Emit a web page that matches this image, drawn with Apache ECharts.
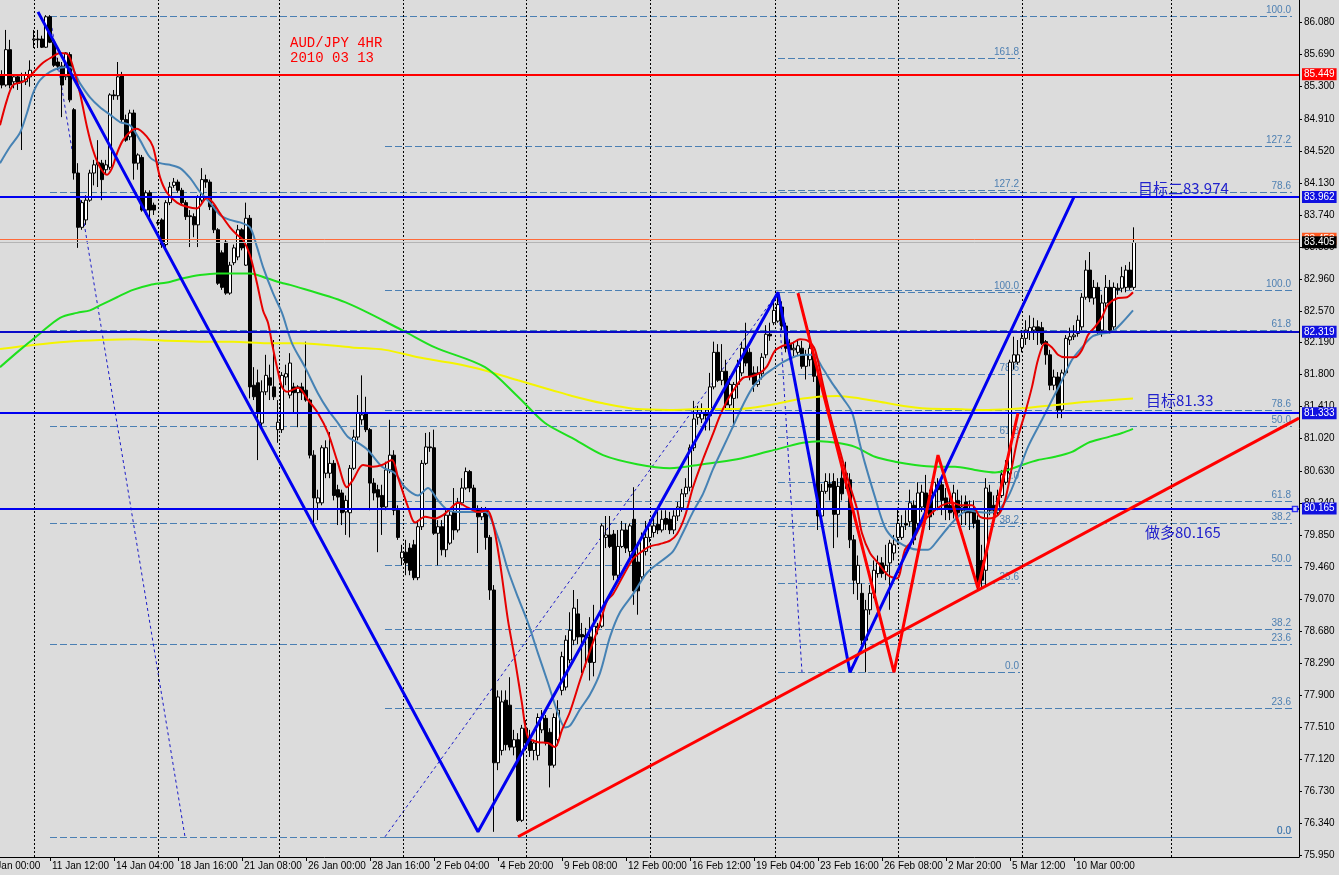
<!DOCTYPE html>
<html><head><meta charset="utf-8">
<script src="https://cdn.jsdelivr.net/npm/echarts@6/dist/echarts.min.js"></script>
<style>html,body{margin:0;padding:0;background:#dcdcdc;}#c{width:1339px;height:875px;}</style>
</head><body><div id="c"></div>
<script>
// ---------- DATA ----------
const firstBar = 4; // bar index of the first candle
// [open, close, low, high]
const candles = [
[85.44,85.32,85.28,85.50],[85.32,85.75,85.30,85.99],[85.75,85.32,85.28,85.87],[85.36,85.42,85.28,85.44],[85.42,85.34,85.26,85.45],
[85.37,85.36,84.53,85.47],[85.36,85.44,85.32,85.48],[85.42,85.50,85.30,85.62],[85.87,85.88,85.77,85.99],[85.88,85.87,85.77,85.99],
[85.88,85.78,85.77,85.92],[85.78,86.15,85.77,86.17],[86.15,85.84,85.83,86.17],[85.84,85.56,85.54,85.87],[85.60,85.55,85.50,85.65],
[85.55,85.32,84.93,85.60],[85.42,85.71,85.38,85.72],[85.69,85.14,85.11,85.72],[85.02,84.25,84.17,85.04],[84.25,83.59,83.34,84.37],
[83.59,83.89,83.56,83.92],[83.68,83.92,83.62,83.98],[83.92,84.25,83.90,84.29],[84.25,84.35,84.10,84.41],[84.35,84.38,84.08,84.65],
[84.37,84.17,83.92,84.41],[84.29,84.35,84.23,84.41],[84.32,85.20,84.29,85.22],[85.20,85.19,85.14,85.26],[85.19,85.42,85.14,85.60],
[85.44,84.90,84.87,85.48],[84.90,84.65,84.63,84.96],[84.69,84.98,84.65,85.02],[84.98,84.37,84.17,85.02],[84.37,84.47,84.29,84.49],
[84.44,83.80,83.78,84.47],[83.80,84.01,83.74,84.04],[84.01,83.80,83.70,84.04],[83.86,83.80,83.74,83.89],[83.65,83.64,83.61,83.68],
[83.68,83.38,83.34,83.70],[83.38,83.89,83.35,83.92],[83.89,84.08,83.86,84.14],[84.10,84.14,84.07,84.19],[84.14,84.04,84.01,84.17],
[84.04,83.89,83.86,84.07],[83.89,83.72,83.68,83.92],[83.73,83.72,83.35,83.80],[83.72,83.62,83.47,83.76],[83.62,83.96,83.35,83.98],
[83.92,84.17,83.89,84.31],[84.17,84.14,84.07,84.23],[84.14,83.84,83.80,84.17],[83.84,83.56,83.52,83.86],[83.56,82.91,82.89,83.58],
[83.28,82.86,82.83,83.31],[83.41,82.79,82.77,83.44],[82.79,83.13,82.77,83.17],[83.16,83.34,83.13,83.38],[83.23,83.56,83.19,83.62],
[83.56,83.34,83.31,83.58],[83.13,83.70,83.12,83.89],[83.70,81.65,81.51,83.74],[81.67,81.53,81.49,81.89],[81.70,81.33,80.76,81.86],
[81.21,81.59,81.16,81.73],[81.59,81.79,81.55,82.04],[81.76,81.67,81.49,81.92],[81.65,81.53,81.49,82.22],[81.13,81.22,80.97,81.49],
[81.13,81.79,81.09,81.83],[81.77,81.81,81.67,81.92],[81.55,81.94,81.51,82.06],[81.65,81.58,81.33,81.70],[81.58,81.65,81.16,81.67],
[81.65,81.58,81.49,81.70],[81.61,81.49,81.47,82.20],[81.49,80.82,80.78,81.51],[80.82,80.30,79.99,80.88],[80.24,80.30,80.03,80.40],
[80.24,80.91,80.21,80.94],[80.60,80.91,80.54,81.00],[80.60,80.72,80.54,81.10],[80.72,80.33,80.27,80.76],[80.40,80.31,79.97,80.46],
[80.36,80.12,79.97,80.40],[80.13,80.27,79.85,80.33],[80.12,80.66,79.82,80.70],[80.66,81.04,80.64,81.13],[81.04,81.33,81.00,81.55],
[81.25,81.31,81.19,81.79],[81.33,81.13,81.10,81.53],[81.13,80.48,80.15,81.15],[80.48,80.36,80.27,80.54],[80.40,80.31,79.64,80.46],
[80.33,80.19,79.85,80.46],[80.19,80.64,80.15,80.74],[80.64,80.82,80.60,81.25],[80.82,80.15,80.09,80.88],[80.15,79.82,79.79,80.21],
[79.57,79.64,79.48,79.73],[79.64,79.51,79.36,79.79],[79.69,79.42,79.36,79.75],[79.73,79.33,79.30,79.79],[79.33,79.95,79.30,80.03],
[79.95,80.72,79.91,80.76],[80.72,80.92,80.70,81.09],[80.92,80.91,80.86,81.10],[80.91,79.87,79.85,81.13],[79.87,79.95,79.48,80.03],
[79.95,79.67,79.60,80.03],[79.67,80.09,79.58,80.15],[79.75,80.09,79.73,80.15],[80.13,79.91,79.79,80.42],[79.91,80.24,79.88,80.30],
[80.24,80.42,80.21,80.54],[80.42,80.62,80.40,80.67],[80.62,80.42,80.37,80.64],[80.42,80.15,80.13,80.46],[80.15,80.07,79.63,80.21],
[80.07,80.15,80.03,80.19],[80.15,79.82,79.67,80.19],[79.82,79.18,79.06,79.85],[79.18,77.08,76.24,79.24],[77.08,77.88,76.99,77.96],
[77.23,77.82,77.17,77.96],[77.84,77.30,77.23,77.96],[77.78,77.27,77.23,78.12],[77.27,77.36,77.17,77.48],[77.36,76.38,76.36,77.44],
[76.38,77.50,76.36,77.54],[77.50,77.32,77.23,77.60],[77.36,77.23,77.15,77.48],[77.23,77.32,77.11,77.36],[77.17,77.63,77.11,77.68],
[77.48,77.63,77.44,77.72],[77.62,77.32,77.29,77.66],[77.45,77.05,76.78,77.50],[77.05,77.63,77.02,77.68],[77.36,77.72,77.29,77.84],
[77.96,78.37,77.90,78.43],[78.00,78.57,77.96,78.63],[78.33,78.69,78.29,78.91],[78.57,78.96,78.51,79.18],[78.89,78.61,78.52,79.07],
[78.64,78.61,78.17,78.78],[78.63,78.60,78.24,78.72],[78.61,78.30,78.08,78.85],[78.30,78.74,78.13,79.00],[78.74,78.72,78.64,78.78],
[78.74,79.96,78.72,79.99],[79.82,79.85,79.69,80.08],[79.85,79.71,79.69,80.08],[79.86,79.36,79.30,79.91],[79.36,79.71,79.30,79.91],
[79.71,79.91,79.69,80.02],[79.91,79.69,79.63,79.99],[79.65,79.96,79.56,79.99],[80.04,79.17,79.00,80.43],[79.52,79.17,78.88,79.76],
[79.34,79.82,79.30,79.88],[79.65,79.82,79.60,80.02],[79.82,79.96,79.76,80.04],[79.88,79.96,79.82,80.08],[79.98,79.91,79.86,80.15],
[79.91,80.04,79.88,80.15],[80.05,79.98,79.91,80.15],[80.04,79.91,79.86,80.13],[79.91,80.08,79.86,80.15],[80.08,80.19,80.02,80.25],
[80.18,80.35,80.13,80.41],[80.35,80.43,80.31,80.54],[80.43,80.91,80.38,80.95],[80.91,81.26,80.87,81.48],[81.28,81.32,81.19,81.42],
[81.26,81.33,81.21,81.45],[81.32,81.30,81.12,81.38],[81.30,81.65,81.12,81.82],[81.65,82.07,81.62,82.20],[82.07,81.73,81.71,82.17],
[81.73,81.84,81.67,82.17],[81.84,81.43,81.38,81.98],[81.43,81.68,81.38,81.78],[81.51,81.68,81.16,81.71],[81.68,81.90,81.51,81.98],
[81.82,82.12,81.78,82.20],[82.12,81.94,81.90,82.43],[82.07,81.78,81.73,82.12],[81.82,81.68,81.59,81.90],[81.68,81.82,81.65,81.90],
[81.81,82.01,81.74,82.06],[82.04,82.29,82.00,82.40],[82.29,82.27,82.21,82.43],[82.43,82.58,82.40,82.69],[82.45,82.65,82.43,82.78],
[82.62,82.39,82.34,82.69],[82.39,82.12,82.07,82.43],[82.17,82.10,82.04,82.23],[82.10,82.12,82.01,82.20],[82.07,82.15,82.04,82.23],
[82.12,81.90,81.87,82.21],[81.90,82.04,81.74,82.10],[81.98,82.12,81.90,82.34],[82.04,81.78,81.71,82.10],[81.78,80.08,79.91,81.84],
[80.08,80.38,80.02,80.47],[80.38,80.50,80.35,80.60],[80.47,80.43,80.27,80.60],[80.50,80.10,79.69,80.60],[80.10,80.44,79.82,80.54],
[80.54,80.35,80.27,80.67],[80.60,80.52,80.41,80.74],[80.52,79.79,79.69,80.60],[79.79,79.30,79.13,79.85],[79.26,79.48,79.06,79.60],
[79.14,78.57,78.51,79.26],[78.57,78.94,78.18,79.06],[78.94,79.14,78.88,79.24],[79.14,79.42,79.08,79.54],[79.38,79.51,79.33,79.60],
[79.51,79.38,79.33,79.58],[79.40,79.48,79.30,79.73],[79.51,79.75,78.94,79.79],[79.63,79.73,79.54,79.85],[79.82,79.99,79.73,80.18],
[79.82,79.95,79.79,80.09],[79.99,79.97,79.91,80.15],[80.01,80.24,79.95,80.40],[80.21,79.79,79.73,80.27],[79.99,80.36,79.95,80.49],
[80.19,80.37,80.13,80.46],[80.36,80.12,80.07,80.58],[80.33,80.07,79.91,80.40],[80.15,80.49,80.09,80.58],[80.46,80.40,80.15,80.54],
[80.46,80.27,80.09,80.52],[80.30,80.18,80.03,80.42],[80.21,80.12,80.03,80.40],[80.13,80.36,80.05,80.46],[80.27,80.12,80.03,80.40],
[80.15,80.19,79.97,80.33],[80.25,80.12,79.97,80.33],[80.15,80.12,79.91,80.27],[80.15,79.99,79.93,80.27],[80.03,79.30,79.18,80.09],
[79.54,79.30,79.20,79.73],[79.42,80.42,79.24,80.54],[80.37,80.15,80.09,80.46],[80.21,80.15,80.09,80.33],[80.12,80.33,80.09,80.40],
[80.33,80.58,80.30,80.64],[80.49,80.66,80.46,80.76],[80.60,81.95,80.58,81.98],[81.95,82.04,81.86,82.26],[81.95,82.04,81.92,82.22],
[82.13,82.24,82.07,82.34],[82.24,82.34,82.16,82.46],[82.32,82.37,82.22,82.52],[82.34,82.38,82.22,82.49],[82.38,82.32,82.16,82.46],
[82.37,82.18,82.16,82.44],[82.20,82.04,81.92,82.22],[82.04,81.67,81.61,82.10],[81.67,81.77,81.61,81.86],[81.77,81.37,81.27,81.83],
[81.37,81.82,81.27,81.86],[81.82,82.24,81.79,82.28],[82.22,82.26,82.16,82.37],[82.26,82.28,82.22,82.40],[82.30,82.46,82.26,82.52],
[82.38,82.74,82.34,82.79],[82.74,83.07,82.71,83.19],[83.07,82.73,82.68,83.29],[82.73,82.86,82.65,82.95],[82.86,82.32,82.28,82.92],
[82.34,82.67,82.26,82.77],[82.67,82.86,82.62,83.01],[82.86,82.34,82.30,82.95],[82.38,82.86,82.34,82.92],[82.85,82.83,82.77,82.91],
[82.85,82.99,82.80,83.11],[82.86,83.07,82.80,83.13],[83.07,82.86,82.83,83.17],[82.86,83.405,82.83,83.59]
];

const maRed = [[3.5,84.83],[5.25,85.14],[6.75,85.32],[9.25,85.36],[11.75,85.47],[14.25,85.59],[16.5,85.66],[18.5,85.71],[20.5,85.69],[21.75,85.54],[23.5,85.22],[25.25,84.81],[26.75,84.53],[28.5,84.32],[30.25,84.23],[31.5,84.31],[32.75,84.49],[34.25,84.65],[36.5,84.77],[37.75,84.79],[40.25,84.69],[41.75,84.57],[43.5,84.20],[45.25,84.01],[47.75,83.89],[50.25,83.84],[52.75,83.82],[55.25,83.95],[56.75,83.89],[58.5,83.76],[61,83.59],[62.75,83.50],[64.25,83.44],[66,83.25],[67.75,82.91],[69.25,82.58],[70.5,82.43],[71.5,82.18],[72.75,81.89],[74,81.65],[75.25,81.59],[78,81.64],[80.5,81.49],[83,81.33],[85.5,81.09],[88,80.72],[90.25,80.43],[91.75,80.52],[94.25,80.70],[96.75,80.68],[99,80.70],[101.5,80.76],[103,80.55],[105.5,80.19],[107.25,80.00],[109.75,80.07],[112.25,80.05],[114.25,80.09],[116.5,80.19],[118,80.24],[120.5,80.18],[123,80.13],[125.25,80.15],[126.75,79.99],[128.5,79.51],[130.5,78.81],[132.25,78.33],[134,77.80],[135.5,77.39],[138,77.33],[140.5,77.32],[142.25,77.27],[144,77.48],[146,77.70],[148.5,78.08],[151,78.44],[153.5,78.78],[155.25,79.05],[156.75,79.13],[159.25,79.35],[161.75,79.56],[164,79.65],[166,79.71],[168.5,79.74],[171,79.78],[172.75,79.86],[174.75,80.08],[176.75,80.43],[179.25,80.77],[181.75,81.08],[183.5,81.30],[185.25,81.48],[186.75,81.60],[189.25,81.76],[191.5,81.78],[193.5,81.82],[195.25,81.90],[197.25,82.09],[199.25,82.15],[201.5,82.18],[203.5,82.23],[205.5,82.21],[207.25,82.10],[209.25,81.68],[211.75,81.17],[213.5,80.87],[215.5,80.52],[217.75,80.17],[219,79.87],[221,79.63],[223,79.51],[225.5,79.36],[227.75,79.32],[229.75,79.67],[231.75,79.79],[234,79.99],[236.5,80.12],[239,80.21],[241.5,80.24],[244,80.21],[246.5,80.21],[248.5,80.07],[250.5,80.05],[253,80.09],[254.75,80.27],[256.5,80.68],[258,81.04],[259.75,81.33],[261.5,81.65],[263,81.98],[264.75,82.18],[266.5,82.13],[268,82.04],[269.75,82.01],[272.25,82.01],[274,82.10],[275.5,82.28],[277.25,82.38],[279,82.50],[280.5,82.65],[283,82.73],[285.25,82.74],[286.75,82.80]];

const maBlue = [[3.5,84.37],[6,84.57],[8.5,84.74],[10.25,84.98],[11.75,85.22],[13.5,85.38],[16,85.48],[18.5,85.53],[21,85.54],[23.5,85.34],[26,85.17],[28.5,85.05],[31,84.96],[33.5,84.87],[36,84.83],[38.5,84.65],[41,84.44],[43.5,84.37],[46,84.35],[48.5,84.31],[51,84.19],[53.5,84.02],[56,83.89],[58.5,83.74],[61,83.68],[63.5,83.65],[66,83.59],[67.75,83.35],[69.25,83.11],[71.75,82.79],[74,82.55],[76.5,82.18],[79.75,81.89],[83,81.57],[85.5,81.37],[88,81.21],[90.5,81.04],[93,80.97],[95.5,80.88],[99,80.68],[102.25,80.60],[104.75,80.43],[108,80.33],[110.5,80.42],[113,80.27],[115.5,80.15],[118,80.13],[121.5,80.13],[124.75,80.13],[128,79.82],[130.5,79.42],[133,79.09],[135.5,78.78],[138,78.41],[140.5,78.05],[143,77.68],[144.75,77.51],[146,77.53],[148.5,77.73],[151,77.91],[153.5,78.17],[156,78.61],[158.5,78.91],[161.75,79.13],[165.25,79.39],[168.5,79.52],[171.75,79.65],[174.25,79.88],[176.75,80.13],[179.25,80.35],[181.75,80.65],[184.25,80.91],[186.75,81.17],[189.25,81.43],[191.75,81.65],[194.25,81.78],[196.75,81.87],[199.25,81.95],[201.75,82.01],[204.25,82.04],[206.75,82.04],[209.25,81.87],[211.75,81.68],[214.25,81.51],[216.5,81.34],[218.5,80.95],[219.75,80.72],[222.25,80.31],[224.75,79.94],[227.25,79.79],[230.5,79.70],[233,79.67],[235.5,79.67],[238,79.79],[240.5,79.94],[243,80.07],[245.5,80.15],[248,80.13],[250.5,80.12],[253,80.15],[255.5,80.31],[258,80.60],[260.5,80.92],[264,81.25],[266.5,81.49],[269,81.73],[271.5,81.98],[274,82.13],[276.5,82.26],[279,82.30],[281.5,82.32],[284,82.43],[286.75,82.58]];

const maGreen = [[3.5,81.89],[8.5,82.10],[13.5,82.30],[18.5,82.49],[22.75,82.55],[26,82.58],[28.5,82.64],[32.75,82.74],[36.75,82.83],[41,82.89],[45.25,82.92],[49.25,82.97],[53.5,83.01],[57.75,83.03],[61.75,83.03],[66,83.03],[70.25,82.97],[74.25,82.91],[76,82.89],[89.75,82.68],[104,82.34],[112.25,82.13],[124.75,81.89],[133,81.53],[139.75,81.21],[146.5,81.03],[154.25,80.82],[162.75,80.71],[171,80.66],[179.25,80.71],[187.75,80.77],[196,80.87],[204.25,80.97],[208.5,80.99],[212.75,80.97],[217.25,80.92],[222.25,80.80],[227.25,80.74],[232.25,80.70],[237.25,80.68],[242.25,80.68],[247.25,80.64],[252.25,80.61],[255.5,80.64],[259,80.70],[263,80.76],[267.25,80.80],[271.5,80.86],[275.5,80.97],[279.75,81.03],[284,81.09],[286.75,81.14]];

const maYellow = [[3.5,82.11],[11.75,82.16],[20.25,82.20],[28.5,82.22],[36.75,82.23],[45.25,82.21],[53.5,82.20],[61.75,82.20],[70.25,82.18],[78.5,82.18],[91.5,82.13],[99.75,82.10],[108,82.01],[116.5,81.94],[124.75,81.85],[133,81.73],[141.5,81.61],[146.5,81.54],[154.25,81.45],[162.75,81.38],[171,81.37],[179.25,81.38],[187.75,81.38],[196,81.43],[204.25,81.51],[212.75,81.54],[218.5,81.51],[225.5,81.45],[234,81.39],[242.25,81.38],[250.5,81.37],[259,81.39],[267.25,81.43],[275.5,81.47],[286.75,81.51]];

const yTickValues = [75.95,76.34,76.73,77.12,77.51,77.90,78.29,78.68,79.07,79.46,79.85,80.24,80.63,81.02,81.41,81.80,82.19,82.57,82.96,83.35,83.74,84.13,84.52,84.91,85.30,85.69,86.08];
const xTickBars = [16,32,48,64,80,96,112,128,144,160,176,192,208,224,240,256,272];
const xTickLabels = ['11 Jan 12:00','14 Jan 04:00','18 Jan 16:00','21 Jan 08:00','26 Jan 00:00','28 Jan 16:00','2 Feb 04:00','4 Feb 20:00','9 Feb 08:00','12 Feb 00:00','16 Feb 12:00','19 Feb 04:00','23 Feb 16:00','26 Feb 08:00','2 Mar 20:00','5 Mar 12:00','10 Mar 00:00'];
const firstLabel = '7 Jan 00:00';
const gridBars = [12,43,73.25,104.25,135,166,197.25,228,259,296.25];

const hLevels = [85.449, 83.962, 83.453, 83.405, 82.319, 81.333, 80.165];
const anchorPoint = [[327.25, 80.165]]; // small square handle on the 80.165 line

const fibSets = [
  {from:16, to:326.5, levels:[['100.0',86.16],['78.6',84.02],['61.8',82.34],['50.0',81.17],['38.2',79.99],['23.6',78.52],['0.0',76.18]]},
  {from:99.75, to:326.5, levels:[['127.2',84.57],['100.0',82.83],['78.6',81.37],['61.8',80.26],['50.0',79.48],['38.2',78.70],['23.6',77.74],['0.0',76.18]]},
  {from:198, to:258.5, levels:[['161.8',85.65],['127.2',84.04],['100.0',82.80],['78.6',81.80],['61.8',81.04],['50.0',80.49],['38.2',79.95],['23.6',79.26],['0.0',78.18]]}
];
const fibDiagonals = [[[16,86.16],[49.75,76.18]], [[99.75,76.18],[198,82.80]], [[198,82.80],[204,78.18]]];

const blueZigzag = [[13,86.21],[123,76.24],[198,82.80],[216,78.18],[272,83.96]];
const redZigzag = [[203,82.79],[227,78.18],[238,80.82],[248,79.20],[258,81.33]];
const redTrend = [[133,76.18],[328.25,81.27]];

const notes = [
  {text:'AUD/JPY 4HR', bar:76, price:85.83},
  {text:'2010 03 13', bar:76, price:85.64}
];
const targets = [
  {text:'目标二83.974', bar:288, price:84.06},
  {text:'目标81.33', bar:290, price:81.49},
  {text:'做多80.165', bar:289.75, price:79.88}
];

// ---------- CHART ----------
const FONT = '"Liberation Sans", Arial, sans-serif';
const chart = echarts.init(document.getElementById('c'), null, {width:1339, height:875});

const candleRows = candles.map((c, k) => [firstBar + k, c[0], c[1], c[2], c[3]]);

const hStyle = [
  {line:'#ff0000', w:2, box:'#ff0000'},
  {line:'#0000f0', w:2, box:'#1010e0'},
  {line:'#ff6a3a', w:1, box:'#ff5a22'},
  {line:'#b4b4b4', w:1, box:'#000000'},
  {line:'#0a0ac8', w:2, box:'#1010e0'},
  {line:'#0000f0', w:2, box:'#1010e0'},
  {line:'#0000f0', w:2, box:'#1010e0'}
];
const hItems = hLevels.map((v, k) => {
  const s = hStyle[k];
  return {
    yAxis: v,
    lineStyle: {color: s.line, width: s.w, type: 'solid'},
    label: {show: true, position: 'end', formatter: v.toFixed(3), color: '#fff',
      backgroundColor: s.box, padding: [1, 2, 0, 2], fontSize: 10, fontFamily: FONT, distance: 3, lineHeight: 11}
  };
});

const fibItems = [];
fibSets.forEach(fs => {
  fs.levels.forEach(([txt, p]) => {
    fibItems.push([
      {coord: [fs.from, p], lineStyle: {color: '#4a7fb3', width: 1, type: [7, 3]},
       label: {show: true, position: 'insideEndTop', formatter: txt, color: '#4f80b2', fontSize: 10, fontFamily: FONT, distance: 1}},
      {coord: [fs.to, p]}
    ]);
  });
});
fibDiagonals.forEach(d => {
  fibItems.push([
    {coord: d[0], lineStyle: {color: '#1a1ac8', width: 1, type: [3, 3]}, label: {show: false}},
    {coord: d[1]}
  ]);
});
gridBars.forEach(b => {
  fibItems.push({xAxis: b, lineStyle: {color: '#000', width: 1, type: [2, 2]}, label: {show: false}});
});

const option = {
  animation: false,
  backgroundColor: '#dcdcdc',
  grid: {left: 0, right: 40, top: 0, bottom: 18, containLabel: false},
  xAxis: {
    type: 'value', min: 3.5, max: 328.25,
    axisLine: {show: true, onZero: false, lineStyle: {color: '#000', width: 1}},
    axisTick: {show: true, length: 4, lineStyle: {color: '#000'}, customValues: xTickBars},
    axisLabel: {show: true, customValues: xTickBars, color: '#000', fontSize: 10, fontFamily: FONT,
      align: 'left', padding: [0, 0, 0, 2], margin: 4,
      formatter: v => { const k = xTickBars.indexOf(Math.round(v)); return k >= 0 ? xTickLabels[k] : ''; }},
    splitLine: {show: false}
  },
  yAxis: {
    type: 'value', position: 'right', min: 75.934, max: 86.354,
    axisLine: {show: true, lineStyle: {color: '#000', width: 1}},
    axisTick: {show: true, length: 3, lineStyle: {color: '#000'}, customValues: yTickValues},
    axisLabel: {show: true, customValues: yTickValues, color: '#000', fontSize: 10, fontFamily: FONT, margin: 5,
      formatter: v => v.toFixed(3)},
    splitLine: {show: false}
  },
  series: [
    {
      type: 'candlestick', name: 'AUDJPY', data: candleRows, encode: {x: 0, y: [1, 2, 3, 4]},
      barWidth: 3, z: 3, silent: true,
      itemStyle: {color: '#ffffff', color0: '#000000', borderColor: '#000000', borderColor0: '#000000', borderWidth: 1}
    },
    {
      type: 'line', name: 'MA200', data: maYellow, showSymbol: false, smooth: 0.3, z: 4, silent: true,
      lineStyle: {color: '#f4f400', width: 2},
      markLine: {silent: true, symbol: ['none', 'none'], z: 5, animation: false, label: {show: false}, data: hItems}
    },
    {
      type: 'line', name: 'MA120', data: maGreen, showSymbol: false, smooth: 0.3, z: 4, silent: true,
      lineStyle: {color: '#1ee01e', width: 2},
      markLine: {silent: true, symbol: ['none', 'none'], z: 1, animation: false, label: {show: false}, data: fibItems}
    },
    {
      type: 'line', name: 'MA20', data: maBlue, showSymbol: false, smooth: 0.3, z: 4, silent: true,
      lineStyle: {color: '#4682b4', width: 2}
    },
    {
      type: 'line', name: 'MA8', data: maRed, showSymbol: false, smooth: 0.3, z: 4, silent: true,
      lineStyle: {color: '#e60000', width: 2}
    },
    {
      type: 'line', name: 'ZigZagBlue', data: blueZigzag, showSymbol: false, z: 6, silent: true,
      lineStyle: {color: '#0000f0', width: 3}
    },
    {
      type: 'line', name: 'ZigZagRed', data: redZigzag, showSymbol: false, z: 6, silent: true,
      lineStyle: {color: '#ff0000', width: 3}
    },
    {
      type: 'line', name: 'TrendRed', data: redTrend, showSymbol: false, z: 6, silent: true,
      lineStyle: {color: '#ff0000', width: 3}
    },
    {
      type: 'scatter', name: 'Handle', data: anchorPoint, symbol: 'rect', symbolSize: 5, z: 7, silent: true,
      itemStyle: {color: '#ffffff', borderColor: '#0000f0', borderWidth: 1.5}
    }
  ]
};
chart.setOption(option);

// text annotations placed through the axes' scales
const gfx = [];
notes.forEach(n => {
  const pt = chart.convertToPixel({gridIndex: 0}, [n.bar, n.price]);
  gfx.push({type: 'text', x: pt[0], y: pt[1], z: 20, silent: true,
    style: {text: n.text, fill: '#ff0000', font: '14px "Liberation Mono", "Courier New", monospace', verticalAlign: 'middle', align: 'left'}});
});
targets.forEach(t => {
  const pt = chart.convertToPixel({gridIndex: 0}, [t.bar, t.price]);
  gfx.push({type: 'text', x: pt[0], y: pt[1], z: 20, silent: true,
    style: {text: t.text, fill: '#2222cc', font: '15px "Noto Sans CJK SC", sans-serif', verticalAlign: 'middle', align: 'left'}});
});
const p0 = chart.convertToPixel({gridIndex: 0}, [0, 75.934]);
gfx.push({type: 'text', x: p0[0] + 2, y: p0[1] + 9, z: 20, silent: true,
  style: {text: firstLabel, fill: '#000', font: '10px ' + FONT, verticalAlign: 'middle', align: 'left'}});
chart.setOption({graphic: gfx});
</script>
</body></html>
